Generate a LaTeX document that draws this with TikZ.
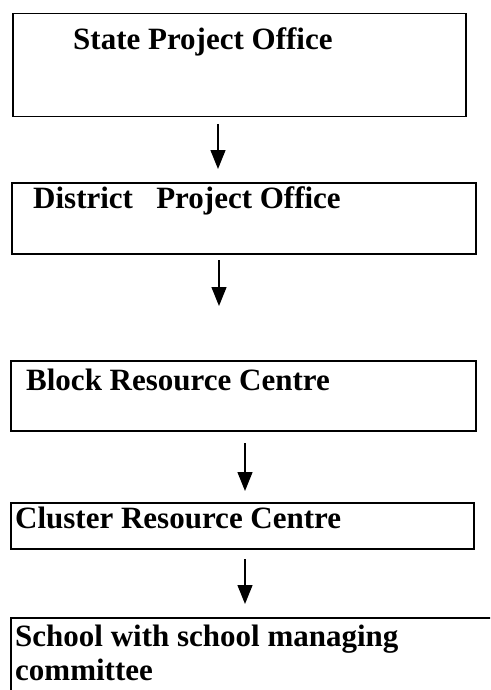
\documentclass[tikz,border=0pt]{standalone}
\usepackage{fontspec}
\setmainfont{Liberation Serif}
\usetikzlibrary{arrows.meta}
\begin{document}
\begin{tikzpicture}[x=1pt,y=-1pt,
  box/.style={draw=black, line width=1.5pt, rectangle, anchor=north west, inner sep=0pt},
  label/.style={anchor=base west, inner sep=0pt, font=\fontsize{31}{34}\selectfont\bfseries},
  arr/.style={line width=1.3pt, -{Triangle[length=19pt,width=15pt]}}]
\clip (0,0) rectangle (490,690);
\useasboundingbox (0,0) rectangle (490,690);
\fill[white] (0,0) rectangle (490,690);
% boxes
\node[box, minimum width=453pt, minimum height=103pt] (b1) at (12,13) {};
\node[box, minimum width=464pt, minimum height=71pt] (b2) at (11,182) {};
\node[box, minimum width=465pt, minimum height=70pt] (b3) at (10,360) {};
\node[box, minimum width=463pt, minimum height=46pt] (b4) at (10,502) {};
\node[box, minimum width=500pt, minimum height=100pt] (b5) at (10,617) {};
% labels
\node[label] (t1) at (73,50) {State Project Office};
\node[label] (t2) at (33,208) {District\ \ \ Project Office};
\node[label] (t3) at (26,390) {Block Resource Centre};
\node[label] (t4) at (15,528) {Cluster Resource Centre};
\node[label, anchor=north west, align=left] (t5) at (15,625)
  {School with school managing\\committee};
% arrow ends
\coordinate (a1s) at (218,124);
\coordinate (a1e) at (218,169);
\coordinate (a2s) at (219,260);
\coordinate (a2e) at (219,306);
\coordinate (a3s) at (245,443);
\coordinate (a3e) at (245,491);
\coordinate (a4s) at (245,559);
\coordinate (a4e) at (245,604);
\draw[arr] (a1s) -- (a1e);
\draw[arr] (a2s) -- (a2e);
\draw[arr] (a3s) -- (a3e);
\draw[arr] (a4s) -- (a4e);
\end{tikzpicture}
\end{document}
